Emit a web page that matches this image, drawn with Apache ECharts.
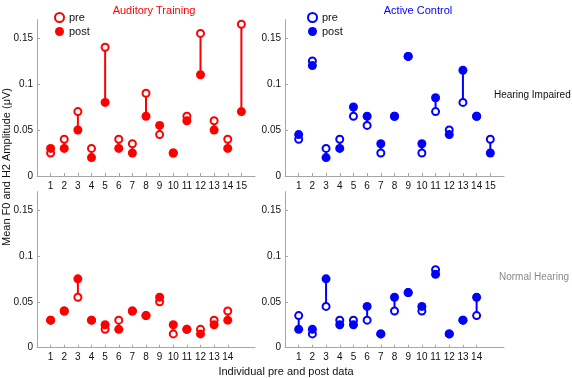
<!DOCTYPE html>
<html>
<head>
<meta charset="utf-8">
<script src="https://cdn.jsdelivr.net/npm/echarts@6/dist/echarts.min.js"></script>
<style>
  html, body { margin: 0; padding: 0; background: #fff; }
  #chart { width: 572px; height: 378px; }
</style>
</head>
<body>
<div id="chart"></div>
<script>
// subjects (x positions)
const subjectsHI = [1, 2, 3, 4, 5, 6, 7, 8, 9, 10, 11, 12, 13, 14, 15];
const subjectsNH = [1, 2, 3, 4, 5, 6, 7, 8, 9, 10, 11, 12, 13, 14];
const yTicks = [0, 0.05, 0.1, 0.15];

// Auditory Training, hearing impaired
const atHiPre  = [0.025, 0.04, 0.07, 0.03, 0.14, 0.04, 0.035, 0.09, 0.045, 0.025, 0.065, 0.155, 0.06, 0.04, 0.165];
const atHiPost = [0.03, 0.03, 0.05, 0.02, 0.08, 0.03, 0.025, 0.065, 0.055, 0.025, 0.06, 0.11, 0.05, 0.03, 0.07];
// Active Control, hearing impaired
const acHiPre  = [0.04, 0.125, 0.03, 0.04, 0.065, 0.055, 0.025, 0.065, 0.13, 0.025, 0.07, 0.05, 0.08, 0.065, 0.04];
const acHiPost = [0.045, 0.12, 0.02, 0.03, 0.075, 0.065, 0.035, 0.065, 0.13, 0.035, 0.085, 0.045, 0.115, 0.065, 0.025];
// Auditory Training, normal hearing
const atNhPre  = [0.03, 0.04, 0.055, 0.03, 0.02, 0.03, 0.04, 0.035, 0.05, 0.015, 0.02, 0.02, 0.03, 0.04];
const atNhPost = [0.03, 0.04, 0.075, 0.03, 0.025, 0.02, 0.04, 0.035, 0.055, 0.025, 0.02, 0.015, 0.025, 0.03];
// Active Control, normal hearing
const acNhPre  = [0.035, 0.015, 0.045, 0.03, 0.03, 0.03, 0.015, 0.04, 0.06, 0.04, 0.085, 0.015, 0.03, 0.035];
const acNhPost = [0.02, 0.02, 0.075, 0.025, 0.025, 0.045, 0.015, 0.055, 0.06, 0.045, 0.08, 0.015, 0.03, 0.055];

const RED = '#ff0000';
const BLUE = '#0000ff';
const FONT = 'Liberation Sans, Arial, Helvetica, sans-serif';
const AXIS_GRAY = '#a6a6a6';

const chart = echarts.init(document.getElementById('chart'));

const grids = [
  { left: 37, top: 19.6, width: 218, height: 156.4 },
  { left: 285, top: 19.6, width: 219, height: 156.4 },
  { left: 37, top: 191.6, width: 218, height: 156.1 },
  { left: 285, top: 191.6, width: 219, height: 156.1 }
];

function xAxisFor(i, ticks) {
  return {
    gridIndex: i, type: 'value', min: 0, max: 16,
    axisLine: { lineStyle: { color: AXIS_GRAY, width: 1 } },
    axisTick: { inside: true, length: 3, lineStyle: { color: AXIS_GRAY }, customValues: ticks },
    axisLabel: { customValues: ticks, color: '#111', fontSize: 10, fontFamily: FONT, margin: 5 },
    splitLine: { show: false }
  };
}
function yAxisFor(i) {
  return {
    gridIndex: i, type: 'value', min: 0, max: 0.17,
    axisLine: { show: true, lineStyle: { color: AXIS_GRAY, width: 1 } },
    axisTick: { show: true, inside: true, length: 3, lineStyle: { color: AXIS_GRAY }, customValues: yTicks },
    axisLabel: { customValues: yTicks, color: '#111', fontSize: 10, fontFamily: FONT, margin: 4 },
    splitLine: { show: false }
  };
}

function panel(i, xs, pre, post, color, tag) {
  const stems = xs.map((x, k) => [x, pre[k], post[k]]);
  return [
    {
      type: 'custom', xAxisIndex: i, yAxisIndex: i, silent: true, z: 1,
      data: stems,
      renderItem: (params, api) => {
        const a = api.coord([api.value(0), api.value(1)]);
        const b = api.coord([api.value(0), api.value(2)]);
        return { type: 'line', shape: { x1: a[0], y1: a[1], x2: b[0], y2: b[1] },
          style: { stroke: color, lineWidth: 2 } };
      }
    },
    {
      name: tag + ' pre', type: 'scatter', xAxisIndex: i, yAxisIndex: i, z: 2,
      symbol: 'circle', symbolSize: 7,
      itemStyle: { color: '#fff', borderColor: color, borderWidth: 2, opacity: 1 },
      data: xs.map((x, k) => [x, pre[k]])
    },
    {
      name: tag + ' post', type: 'scatter', xAxisIndex: i, yAxisIndex: i, z: 3,
      symbol: 'circle', symbolSize: 9,
      itemStyle: { color: color, opacity: 1 },
      data: xs.map((x, k) => [x, post[k]])
    }
  ];
}

function legendFor(left, tag) {
  return {
    left: left, top: 7, orient: 'vertical', itemGap: 3, itemWidth: 9, itemHeight: 9,
    data: [tag + ' pre', tag + ' post'],
    formatter: n => n.split(' ').pop(),
    textStyle: { fontSize: 11, fontFamily: FONT, color: '#111' },
    selectedMode: false
  };
}

chart.setOption({
  animation: false,
  backgroundColor: '#fff',
  grid: grids,
  xAxis: [xAxisFor(0, subjectsHI), xAxisFor(1, subjectsHI), xAxisFor(2, subjectsNH), xAxisFor(3, subjectsNH)],
  yAxis: [yAxisFor(0), yAxisFor(1), yAxisFor(2), yAxisFor(3)],
  legend: [legendFor(49, 'AT-HI'), legendFor(302, 'AC-HI')],
  title: [
    { text: 'Auditory Training', left: 149, top: 0, textAlign: 'center',
      textStyle: { color: RED, fontSize: 11, fontWeight: 'normal', fontFamily: FONT } },
    { text: 'Active Control', left: 413, top: 0, textAlign: 'center',
      textStyle: { color: BLUE, fontSize: 11, fontWeight: 'normal', fontFamily: FONT } },
    { text: 'Hearing Impaired', left: 489, top: 85,
      textStyle: { color: '#111', fontSize: 10, fontWeight: 'normal', fontFamily: FONT } },
    { text: 'Normal Hearing', left: 494, top: 267,
      textStyle: { color: '#8a8a8a', fontSize: 10, fontWeight: 'normal', fontFamily: FONT } },
    { text: 'Individual pre and post data', left: 281, top: 361, textAlign: 'center',
      textStyle: { color: '#111', fontSize: 11, fontWeight: 'normal', fontFamily: FONT } }
  ],
  graphic: [
    { type: 'text', x: 7, y: 167, rotation: Math.PI / 2,
      style: { text: 'Mean F0 and H2 Amplitude (\u03bcV)', fill: '#111', fontSize: 11,
        fontFamily: FONT, align: 'center', verticalAlign: 'middle' } }
  ],
  series: [
    ...panel(0, subjectsHI, atHiPre, atHiPost, RED, 'AT-HI'),
    ...panel(1, subjectsHI, acHiPre, acHiPost, BLUE, 'AC-HI'),
    ...panel(2, subjectsNH, atNhPre, atNhPost, RED, 'AT-NH'),
    ...panel(3, subjectsNH, acNhPre, acNhPost, BLUE, 'AC-NH')
  ]
});
</script>
</body>
</html>
